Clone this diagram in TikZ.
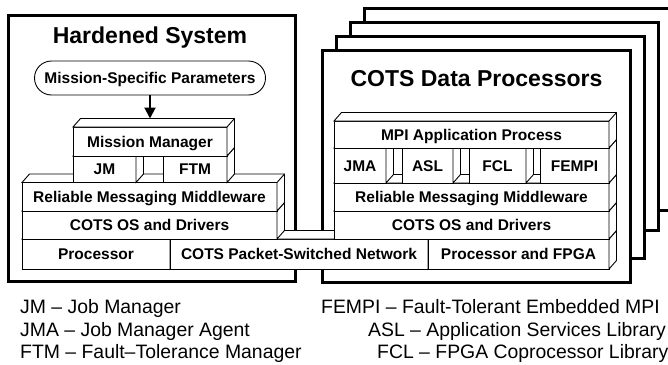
\documentclass[tikz,border=0pt]{standalone}
\usepackage{fontspec}
\setmainfont{Liberation Sans}
\usetikzlibrary{arrows.meta}
\newcommand{\mycube}[6]{%
  \node[box, minimum width=#4pt, minimum height=#5pt] (#1) at (#2,#3) {#6};
  \filldraw[face] (#1.north west) -- ([shift={(7.5,-8.5)}]#1.north west)
     -- ([shift={(7.5,-8.5)}]#1.north east) -- ([shift={(7.5,-8.5)}]#1.south east)
     -- (#1.south east) -- (#1.north east) -- cycle;
  \draw[face] (#1.north east) -- ([shift={(7.5,-8.5)}]#1.north east);
}
\begin{document}
\begin{tikzpicture}[x=1pt,y=-1pt,
  frame/.style={draw, line width=3pt, fill=white, inner sep=0pt, outer sep=0pt, anchor=north west},
  box/.style={draw, fill=white, line width=0.9pt, inner sep=0pt, outer sep=0pt, anchor=north west,
    font=\fontsize{15.5}{18}\selectfont\bfseries, text height=11pt, text depth=0pt},
  face/.style={draw, fill=white, line width=0.9pt, line join=miter},
  title/.style={font=\fontsize{23}{27}\selectfont\bfseries, anchor=base, inner sep=0pt},
  legend/.style={font=\fontsize{19.4}{23}\selectfont, anchor=base west, inner sep=0pt}
]
\useasboundingbox (0,0) rectangle (668,364);
\fill[white] (0,0) rectangle (668,364);

% frames
\node[frame, minimum width=286.3pt, minimum height=266.2pt] (hs) at (8.7,15.3) {};
\node[frame, minimum width=308pt, minimum height=202pt] (f4) at (364,8) {};
\node[frame, minimum width=308pt, minimum height=208pt] (f3) at (350,22) {};
\node[frame, minimum width=308pt, minimum height=222pt] (f2) at (336,36) {};
\node[frame, minimum width=308pt, minimum height=232pt] (f1) at (322,50) {};

\node[title] (hst) at (150,43.5) {Hardened System};
\node[title] (cdt) at (476.5,86) {COTS Data Processors};

% bottom row
\mycube{proc}{22}{239}{148}{30}{Processor}
\mycube{net}{170}{239}{258}{30}{COTS Packet-Switched Network}
\mycube{pf}{428}{239}{181}{30}{Processor and FPGA}
% OS row
\mycube{osl}{22}{211}{255}{28}{COTS OS and Drivers}
\mycube{osr}{334}{211}{275}{28}{COTS OS and Drivers}
% RMM row
\mycube{rmml}{22}{182.5}{255}{28.5}{Reliable Messaging Middleware}
\mycube{rmmr}{334}{183}{275}{28}{Reliable Messaging Middleware}
% service row
\mycube{jm}{73}{156}{63}{26.5}{JM}
\mycube{ftm}{163}{156}{64}{26.5}{FTM}
\mycube{jma}{334}{148}{52}{35}{JMA}
\mycube{asl}{402}{148}{51}{35}{ASL}
\mycube{fcl}{469}{148}{57}{35}{FCL}
\mycube{fempi}{540}{148}{69}{35}{FEMPI}
% top row
\mycube{mm}{73}{127}{154}{29}{Mission Manager}
\mycube{mpi}{334}{121}{275}{27}{MPI Application Process}

% mission-specific parameters
\node[box, anchor=center, rounded corners=17pt, minimum width=231pt, minimum height=34pt] (msp) at (150,78) {Mission-Specific Parameters};
\coordinate (mmtop) at ([shift={(7.5,-8.5)}]mm.north west);
\draw[line width=2pt, -{Triangle[length=11pt,width=11pt]}] (msp.south) -- (msp.south |- mmtop);

% legend
\node[legend] (l1) at (20,313) {JM – Job Manager};
\node[legend] (l2) at (20,336.5) {JMA – Job Manager Agent};
\node[legend] (l3) at (20,358) {FTM – Fault–Tolerance Manager};
\node[legend] (r1) at (321,313) {FEMPI – Fault-Tolerant Embedded MPI};
\node[legend] (r2) at (368,336.5) {ASL – Application Services Library};
\node[legend] (r3) at (377,358) {FCL – FPGA Coprocessor Library};
\end{tikzpicture}
\end{document}
